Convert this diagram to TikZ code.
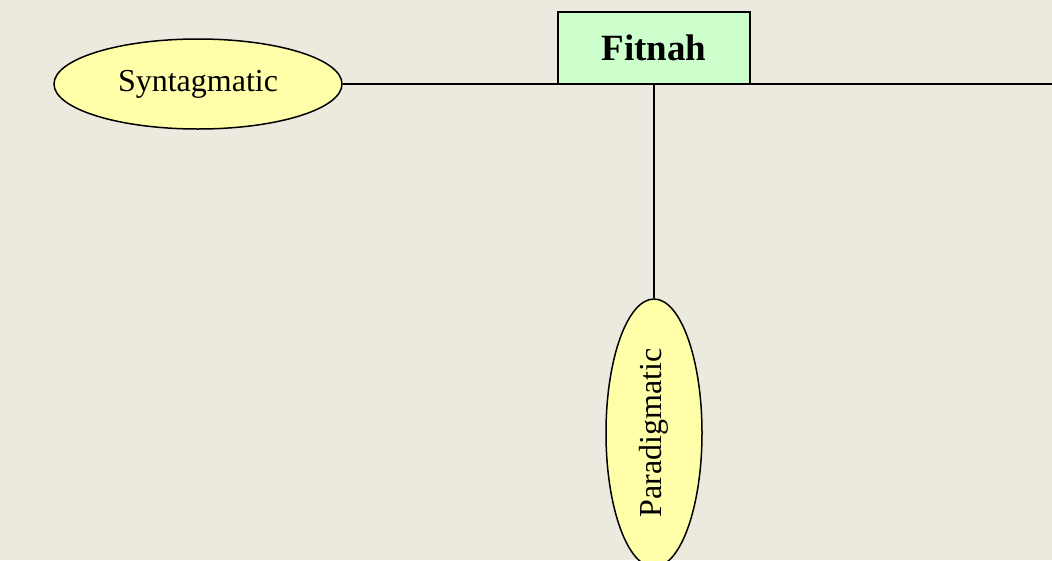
\documentclass[tikz,border=0pt]{standalone}
\usepackage{fontspec}
\setmainfont{Liberation Serif}
\usetikzlibrary{shapes.geometric}
\definecolor{bgc}{HTML}{ECE9DF}
\definecolor{boxc}{HTML}{CCFFCC}
\definecolor{ellc}{HTML}{FFFFAA}
\tikzset{
  conn/.style={draw=black, line width=1.4pt},
  ell/.style={ellipse, draw=black, line width=1.5pt, fill=ellc, inner sep=0pt},
  topbox/.style={rectangle, draw=black, line width=1.8pt, fill=boxc, inner sep=0pt,
    minimum width=192pt, minimum height=72pt, font=\fontsize{37}{40}\selectfont\bfseries}
}
\begin{document}
\begin{tikzpicture}[x=1pt,y=-1pt]
\fill[bgc] (0,0) rectangle (1052,560);
\useasboundingbox (0,0) rectangle (1052,560);
\node[ell, minimum width=288pt, minimum height=90pt, font=\fontsize{32}{36}\selectfont] (syn) at (198,84) {\raisebox{2pt}{Syntagmatic}};
\node[ell, minimum width=96pt, minimum height=268pt, font=\fontsize{32}{36}\selectfont] (para) at (654,433) {\rotatebox{90}{Paradigmatic}};
\coordinate (rend) at (1052,84);
\node[topbox] (fit) at (654,48) {Fitnah};
\draw[conn] (syn.east) -- (rend);
\draw[conn] (fit.south) -- (para.north);
\node[topbox] at (654,48) {Fitnah};
\end{tikzpicture}
\end{document}
